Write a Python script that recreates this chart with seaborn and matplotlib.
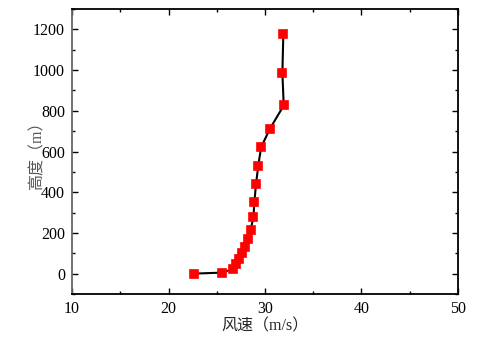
import matplotlib
matplotlib.use("Agg")
import matplotlib.pyplot as plt
import seaborn as sns
from matplotlib.ticker import MultipleLocator

# wind speed (m/s) and height (m)
speed = [22.6, 25.5, 26.7, 27.0, 27.3, 27.6, 27.9, 28.2, 28.5, 28.8, 28.9,
         29.07, 29.3, 29.6, 30.5, 31.94, 31.8, 31.9]
height = [0, 5, 22, 48, 72, 102, 131, 171, 214, 276, 353,
          440, 530, 621, 711, 826, 987, 1176]

sns.set_style("ticks")
plt.rcParams['font.family'] = ['Liberation Serif', 'Noto Sans CJK SC']
plt.rcParams['font.size'] = 11.5

fig, ax = plt.subplots(figsize=(4.88, 3.37), dpi=100)
fig.subplots_adjust(left=72/488, right=458/488, top=1-9/337, bottom=1-294/337)

sns.lineplot(x=speed, y=height, sort=False, ax=ax, color='black', linewidth=1.5,
             marker='s', markersize=5.5, markerfacecolor='red', markeredgecolor='red',
             markeredgewidth=1.2)
for l in ax.lines:
    l.set_markeredgecolor('red')

ax.set_xlim(10, 50)
ax.set_ylim(-100, 1300)
ax.xaxis.set_major_locator(MultipleLocator(10))
ax.xaxis.set_minor_locator(MultipleLocator(5))
ax.yaxis.set_major_locator(MultipleLocator(200))
ax.yaxis.set_minor_locator(MultipleLocator(100))
ax.tick_params(which='both', direction='in', top=True, right=True, colors='black')
ax.tick_params(which='major', length=4, width=1)
ax.tick_params(which='minor', length=2.5, width=1)
ax.tick_params(axis='both', labelsize=11.5, pad=5)
for s in ax.spines.values():
    s.set_linewidth(1.3)
    s.set_color('black')
ax.spines['left'].set_color('#666666')

ax.set_xlabel('风速（m/s）', fontsize=11.5, labelpad=1)
ax.set_ylabel('高度（m）', fontsize=11.5, color='#555555', labelpad=-9)

fig.savefig('out.png', dpi=100)
